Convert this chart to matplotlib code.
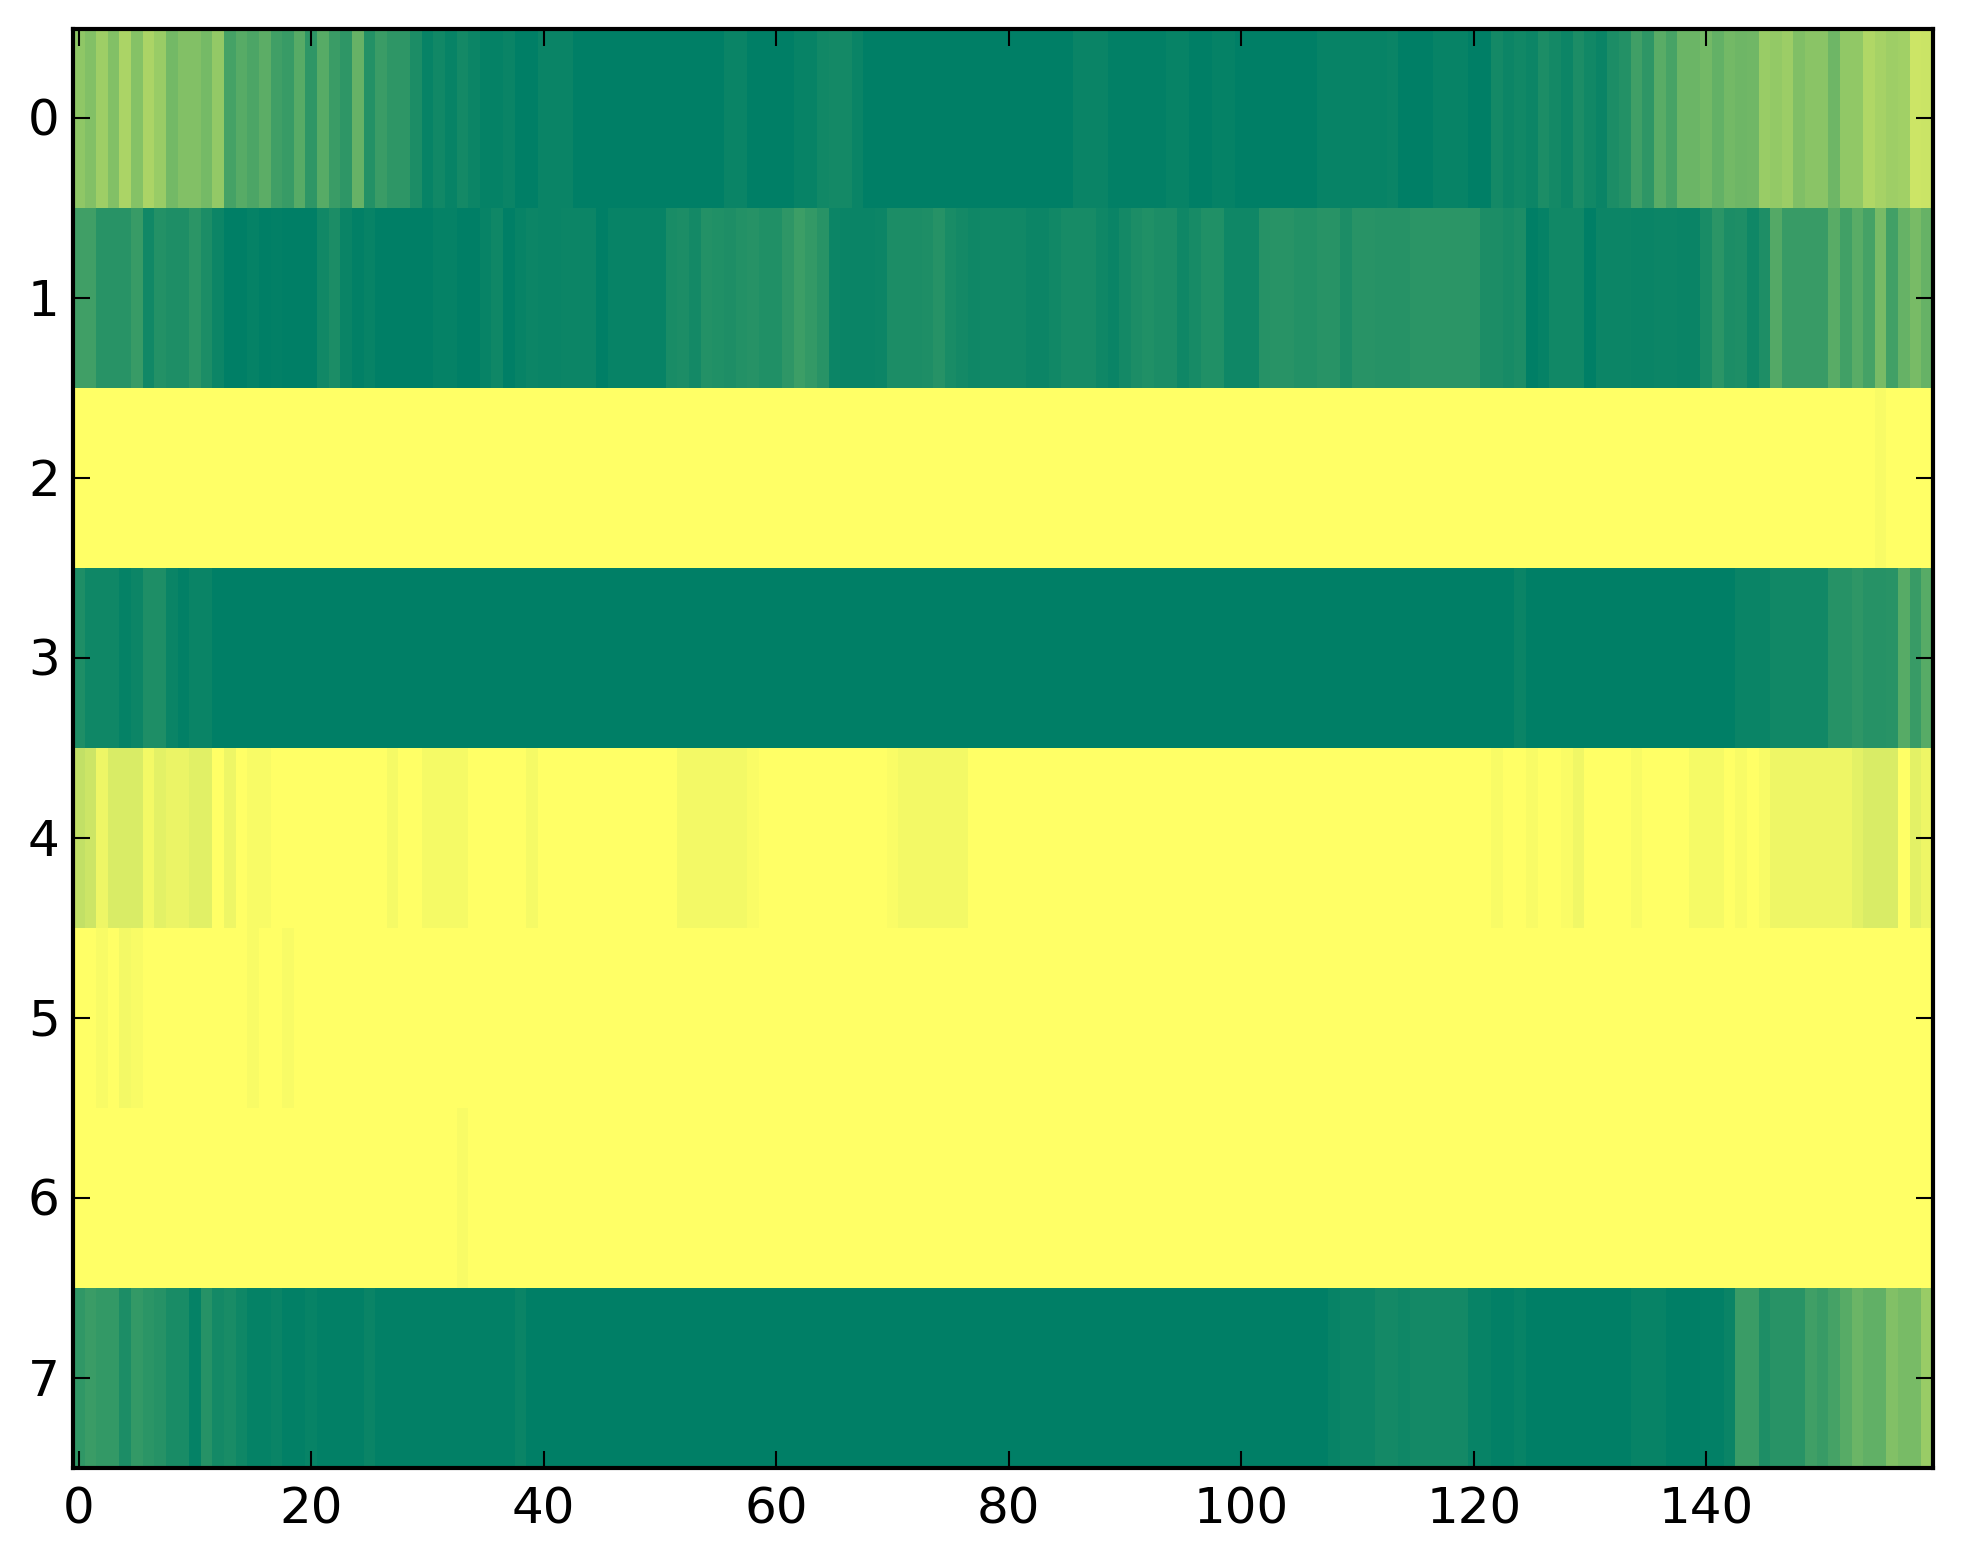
import numpy as np
import matplotlib
matplotlib.use("Agg")
import matplotlib.pyplot as plt
from matplotlib.transforms import ScaledTranslation

# values, percent of the colour range, 20 per line
row0 = [56,51,62,51,67,52,67,60,45,51,51,46,58,27,34,30,36,25,22,34,
        18,34,23,18,40,14,23,18,18,11,3,7,3,8,5,2,2,4,0,0,
        4,4,4,0,0,0,0,0,0,0,0,0,0,0,0,0,4,4,0,0,
        0,0,3,3,7,8,8,4,0,0,0,0,0,0,0,0,0,0,0,0,
        0,0,0,0,0,0,4,4,4,1,1,1,1,1,3,3,0,0,2,2,
        0,0,0,0,0,0,0,3,3,3,3,3,3,4,0,0,0,3,3,3,
        0,0,8,5,7,5,11,8,5,11,7,4,11,14,25,18,35,28,42,42,
        45,39,45,43,44,60,58,61,50,54,54,43,57,57,69,65,62,63,80,79]
row1 = [25,25,16,16,16,22,7,14,12,12,17,11,5,0,0,2,0,1,0,0,
        0,7,11,4,1,3,0,0,0,0,0,2,2,0,0,3,6,0,3,5,
        4,4,5,5,5,0,3,3,3,3,3,10,11,8,14,13,12,14,15,13,
        13,18,24,20,16,5,4,4,4,5,11,11,11,12,15,10,8,6,7,7,
        7,7,5,5,7,9,9,9,6,4,8,11,13,11,11,6,9,13,13,6,
        6,6,15,16,16,14,14,16,16,11,16,16,15,15,15,17,17,17,17,17,
        17,11,11,9,11,0,2,7,7,7,0,5,5,5,4,4,5,5,4,4,
        10,17,11,12,6,12,33,22,22,22,22,35,26,35,27,47,26,40,47,40]
row2 = [100,100,100,100,100,100,100,100,100,100,100,100,100,100,100,100,100,100,100,100,
        100,100,100,100,100,100,100,100,100,100,100,100,100,100,100,100,100,100,100,100,
        100,100,100,100,100,100,100,100,100,100,100,100,100,100,100,100,100,100,100,100,
        100,100,100,100,100,100,100,100,100,100,100,100,100,100,100,100,100,100,100,100,
        100,100,100,100,100,100,100,100,100,100,100,100,100,100,100,100,100,100,100,100,
        100,100,100,100,100,100,100,100,100,100,100,100,100,100,100,100,100,100,100,100,
        100,100,100,100,100,100,100,100,100,100,100,100,100,100,100,100,100,100,100,100,
        100,100,100,100,100,100,100,100,100,100,100,100,100,100,100,97,100,100,100,100]
row3 = [12,6,6,6,2,5,12,12,4,1,4,4,0,0,0,0,0,0,0,0,
        0,0,0,0,0,0,0,0,0,0,0,0,0,0,0,0,0,0,0,0,
        0,0,0,0,0,0,0,0,0,0,0,0,0,0,0,0,0,0,0,0,
        0,0,0,0,0,0,0,0,0,0,0,0,0,0,0,0,0,0,0,0,
        0,0,0,0,0,0,0,0,0,0,0,0,0,0,0,0,0,0,0,0,
        0,0,0,0,0,0,0,0,0,0,0,0,0,0,0,0,0,0,0,0,
        0,0,0,0,4,0,0,0,0,0,0,0,0,0,0,0,0,0,0,0,
        0,0,0,4,4,4,7,7,7,7,7,15,15,18,15,15,16,34,22,34]
row4 = [76,80,93,85,85,85,95,89,92,92,88,88,100,93,100,97,97,100,100,100,
        100,100,100,100,100,100,100,96,100,100,96,96,96,96,100,100,100,100,100,96,
        100,100,100,100,100,100,100,100,100,100,100,100,95,95,95,95,95,95,98,100,
        100,100,100,100,100,100,100,100,100,100,98,95,95,95,95,95,95,100,100,100,
        100,100,100,100,100,100,100,100,100,100,100,100,100,100,100,100,100,100,100,100,
        100,100,100,100,100,100,100,100,100,100,100,100,100,100,100,100,100,100,100,100,
        100,100,97,100,100,97,100,100,98,94,100,100,100,100,97,100,100,100,100,96,
        96,96,100,97,100,97,93,93,93,93,93,93,93,89,85,85,85,100,89,93]
row5 = [100,100,97,100,95,97,100,100,100,100,100,100,100,100,100,97,100,100,97,100,
        100,100,100,100,100,100,100,100,100,100,100,100,100,100,100,100,100,100,100,100,
        100,100,100,100,100,100,100,100,100,100,100,100,100,100,100,100,100,100,100,100,
        100,100,100,100,100,100,100,100,100,100,100,100,100,100,100,100,100,100,100,100,
        100,100,100,100,100,100,100,100,100,100,100,100,100,100,100,100,100,100,100,100,
        100,100,100,100,100,100,100,100,100,100,100,100,100,100,100,100,100,100,100,100,
        100,100,100,100,100,100,100,100,100,100,100,100,100,100,100,100,100,100,100,100,
        100,100,100,100,100,100,100,100,100,100,100,100,100,100,100,100,100,100,100,100]
row6 = [100,100,100,100,100,100,100,100,100,100,100,100,100,100,100,100,100,100,100,100,
        100,100,100,100,100,100,100,100,100,100,100,100,100,97,100,100,100,100,100,100,
        100,100,100,100,100,100,100,100,100,100,100,100,100,100,100,100,100,100,100,100,
        100,100,100,100,100,100,100,100,100,100,100,100,100,100,100,100,100,100,100,100,
        100,100,100,100,100,100,100,100,100,100,100,100,100,100,100,100,100,100,100,100,
        100,100,100,100,100,100,100,100,100,100,100,100,100,100,100,100,100,100,100,100,
        100,100,100,100,100,100,100,100,100,100,100,100,100,100,100,100,100,100,100,100,
        100,100,100,100,100,100,100,100,100,100,100,100,100,100,100,100,100,100,100,100]
row7 = [19,23,20,20,11,20,17,15,10,10,2,15,8,10,6,2,2,4,1,1,
        3,1,1,1,1,4,1,1,1,1,1,1,1,1,1,1,1,1,4,0,
        0,0,0,0,0,0,0,0,0,0,0,0,0,0,0,0,0,0,0,0,
        0,0,0,0,0,0,0,0,0,0,0,0,0,0,0,0,0,0,0,0,
        0,0,0,0,0,0,0,0,0,0,0,0,0,0,0,0,0,0,0,0,
        0,0,0,0,0,0,0,0,3,5,5,5,8,8,6,8,8,8,8,8,
        3,3,1,1,3,0,0,0,0,0,0,0,0,0,3,3,3,0,0,0,
        1,1,4,23,23,12,16,16,16,25,22,27,34,42,38,38,51,47,47,60]

x_ticks = [0, 20, 40, 60, 80, 100, 120, 140]
y_ticks = [0, 1, 2, 3, 4, 5, 6, 7]

plt.style.use("classic")
W, H = 1963, 1564
fig = plt.figure(figsize=(W / 300, H / 300), dpi=300, facecolor="white")
ax = fig.add_axes([73 / W, 1 - 1469 / H, 1860 / W, 1439.5 / H])

data = np.array([row0, row1, row2, row3, row4, row5, row6, row7])
ax.imshow(data, cmap="summer", vmin=0, vmax=100, aspect="auto", interpolation="nearest")
ax.set_xticks(x_ticks)
ax.set_yticks(y_ticks)
ax.set_xlim(-0.5, 159.5)
ax.set_ylim(7.5, -0.5)
ax.tick_params(axis="y", pad=3.2)
# nudge the y labels down a little, they sit just under the tick in the original
down = ScaledTranslation(0, -2.5 / 300, fig.dpi_scale_trans)
for lab in ax.get_yticklabels():
    lab.set_transform(lab.get_transform() + down)

fig.savefig("out.png", dpi=300, facecolor="white")
